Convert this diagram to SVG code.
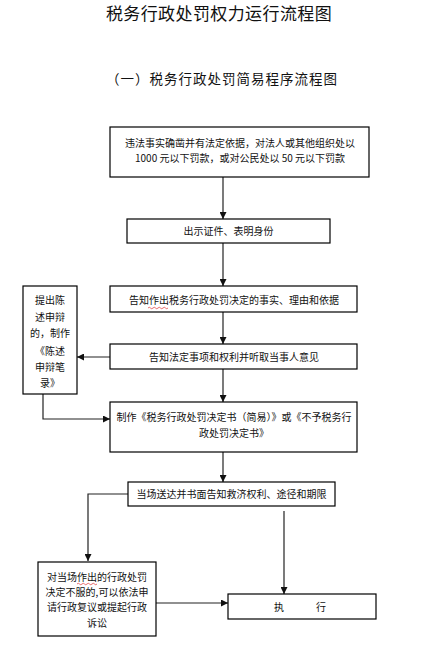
<svg xmlns="http://www.w3.org/2000/svg" width="422" height="655" viewBox="0 0 422 655">
<defs>
<style>
.t{font-family:"Noto Sans CJK SC","Noto Sans",sans-serif;fill:#111;}
.b{font-size:10px;text-anchor:middle;}
.box{fill:#fff;stroke:#000;stroke-width:1.2;}
.c{fill:none;stroke:#222;stroke-width:1.2;}
.w{fill:none;stroke:#e03030;stroke-width:0.7;}
</style>
<marker id="ah" viewBox="0 0 10 10" refX="10" refY="5" markerWidth="7" markerHeight="7" markerUnits="userSpaceOnUse" orient="auto">
<path d="M0,0 L10,5 L0,10 Z" fill="#111"/>
</marker>
</defs>
<rect width="422" height="655" fill="#fff"/>
<text class="t" x="219" y="20" font-size="17" letter-spacing="0.4" text-anchor="middle">税务行政处罚权力运行流程图</text>
<text class="t" x="222" y="84" font-size="13.5" letter-spacing="1" text-anchor="middle">（一）税务行政处罚简易程序流程图</text>

<g id="connectors">
<path class="c" d="M223,177 V219" marker-end="url(#ah)"/>
<path class="c" d="M223,243 V286" marker-end="url(#ah)"/>
<path class="c" d="M223,312 V344" marker-end="url(#ah)"/>
<path class="c" d="M110,357 H77" marker-end="url(#ah)" stroke-width="1.6" stroke="#555"/>
<path class="c" d="M43,394 V419 H110" marker-end="url(#ah)"/>
<path class="c" d="M223,369 V402" marker-end="url(#ah)"/>
<path class="c" d="M223,452 V482" marker-end="url(#ah)"/>
<path class="c" d="M128,494 H88 V561" marker-end="url(#ah)"/>
<path class="c" d="M284,511 V594" marker-end="url(#ah)"/>
<path class="c" d="M156,603 H228" marker-end="url(#ah)"/>
</g>

<g id="n1">
<rect class="box" x="110" y="127" width="259" height="50"/>
<text class="t b" x="240" y="147">违法事实确凿并有法定依据，对法人或其他组织处以</text>
<text class="t b" x="240" y="162">1000 元以下罚款，或对公民处以 50 元以下罚款</text>
</g>
<g id="n2">
<rect class="box" x="127" y="219" width="203" height="24"/>
<text class="t b" x="228.5" y="235">出示证件、表明身份</text>
</g>
<g id="n3">
<rect class="box" x="110" y="286" width="247" height="26"/>
<text class="t b" x="234" y="304">告知作出税务行政处罚决定的事实、理由和依据</text>
<path class="w" d="M148,308 q1.25,-1.5 2.5,0 t2.5,0 t2.5,0 t2.5,0 t2.5,0 t2.5,0 t2.5,0 t2.5,0"/>
</g>
<g id="n4">
<rect class="box" x="110" y="344" width="247" height="25"/>
<text class="t b" x="234" y="361">告知法定事项和权利并听取当事人意见</text>
</g>
<g id="n5">
<rect class="box" x="110" y="402" width="247" height="50"/>
<text class="t b" x="234" y="421">制作《税务行政处罚决定书（简易）》或《不予税务行</text>
<text class="t b" x="234" y="437">政处罚决定书》</text>
</g>
<g id="n6">
<rect class="box" x="23" y="286" width="54" height="108"/>
<text class="t b" x="50" y="304">提出陈</text>
<text class="t b" x="50" y="321">述申辩</text>
<text class="t b" x="50" y="337">的，制作</text>
<text class="t b" x="50" y="355">《陈述</text>
<text class="t b" x="50" y="371">申辩笔</text>
<text class="t b" x="50" y="387">录》</text>
</g>
<g id="n7">
<rect class="box" x="128" y="482" width="207" height="24"/>
<text class="t b" x="231.5" y="498">当场送达并书面告知救济权利、途径和期限</text>
</g>
<g id="n8">
<rect class="box" x="38" y="562" width="118" height="74"/>
<text class="t b" x="97" y="581">对当场作出的行政处罚</text>
<path class="w" d="M77,584 q1.25,-1.5 2.5,0 t2.5,0 t2.5,0 t2.5,0 t2.5,0 t2.5,0 t2.5,0 t2.5,0"/>
<text class="t b" x="97" y="596">决定不服的,可以依法申</text>
<text class="t b" x="97" y="611">请行政复议或提起行政</text>
<text class="t b" x="97" y="627">诉讼</text>
</g>
<g id="n9">
<rect class="box" x="228" y="594" width="148" height="25"/>
<text class="t b" x="279" y="611">执</text>
<text class="t b" x="321" y="611">行</text>
</g>
</svg>
